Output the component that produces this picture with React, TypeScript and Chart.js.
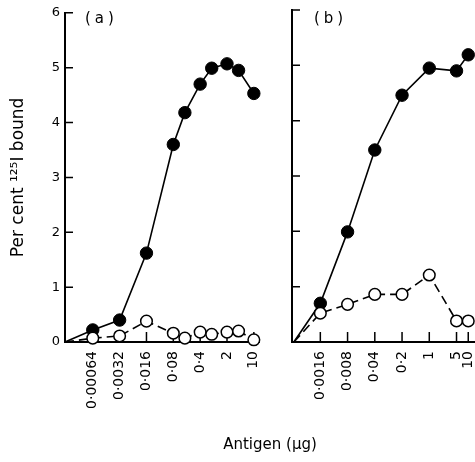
import React, { useEffect, useRef } from "react";
import { Chart, registerables } from "chart.js";

Chart.register(...registerables);

// ---------- data ----------
const yTicks = [0, 1, 2, 3, 4, 5, 6];

// Panel (a)
const originA = 0.000121; // left end of the log axis (no antigen)
const maxA = 14.1;
const ticksA = [0.00064, 0.0032, 0.016, 0.08, 0.4, 2, 10];
const tickLabelsA = ["0·00064", "0·0032", "0·016", "0·08", "0·4", "2", "10"];
const doseA = [0.00064, 0.0032, 0.016, 0.08, 0.16, 0.4, 0.8, 2, 4, 10];
const filledA = [0.22, 0.4, 1.62, 3.6, 4.18, 4.7, 4.99, 5.07, 4.95, 4.53];
const openA = [0.07, 0.11, 0.38, 0.16, 0.07, 0.18, 0.14, 0.18, 0.2, 0.04];

// Panel (b)
const originB = 0.000335;
const maxB = 42.4;
const ticksB = [0.0016, 0.008, 0.04, 0.2, 1, 5, 10];
const tickLabelsB = ["0·0016", "0·008", "0·04", "0·2", "1", "5", "10"];
const doseB = [0.0016, 0.008, 0.04, 0.2, 1, 5, 10];
const filledB = [0.7, 1.99, 3.47, 4.46, 4.95, 4.9, 5.19];
const openB = [0.52, 0.68, 0.86, 0.86, 1.21, 0.38, 0.38];

const FONT = "'DejaVu Sans', 'Liberation Sans', sans-serif";

const tickMarks = {
  id: "tickMarks",
  beforeDatasetsDraw(chart: any) {
    const { ctx, chartArea } = chart;
    const x = chart.scales.x;
    const y = chart.scales.y;
    ctx.save();
    ctx.strokeStyle = "#000";
    ctx.lineWidth = 1.5;
    ctx.beginPath();
    x.ticks.forEach((t: any) => {
      const px = x.getPixelForValue(t.value);
      ctx.moveTo(px, chartArea.bottom);
      ctx.lineTo(px, chartArea.bottom - 10);
    });
    y.ticks.forEach((t: any) => {
      const py = y.getPixelForValue(t.value);
      ctx.moveTo(chartArea.left, py);
      ctx.lineTo(chartArea.left + 8, py);
    });
    ctx.stroke();
    ctx.restore();
  },
};

function makeDatasets(origin: number, dose: number[], filled: number[], open: number[]) {
  const withOrigin = (vals: number[]) => [
    { x: origin, y: 0 },
    ...dose.map((d, i) => ({ x: d, y: vals[i] })),
  ];
  return [
    {
      label: "open",
      data: withOrigin(open),
      borderColor: "#000",
      borderWidth: 1.6,
      borderDash: [9, 5],
      pointRadius: (c: any) => (c.dataIndex === 0 ? 0 : 5.8),
      pointBackgroundColor: "#fff",
      pointBorderColor: "#000",
      pointBorderWidth: 1.5,
      order: 0,
      clip: false,
    },
    {
      label: "filled",
      data: withOrigin(filled),
      borderColor: "#000",
      borderWidth: 1.6,
      pointRadius: (c: any) => (c.dataIndex === 0 ? 0 : 6.2),
      pointBackgroundColor: "#000",
      pointBorderColor: "#000",
      pointBorderWidth: 1,
      order: 1,
      clip: false,
    },
  ];
}

function makeConfig(opts: {
  origin: number;
  max: number;
  ticks: number[];
  labels: string[];
  dose: number[];
  filled: number[];
  open: number[];
  yWidth: number;
  padRight: number;
  showY: boolean;
}) {
  return {
    type: "line" as const,
    data: { datasets: makeDatasets(opts.origin, opts.dose, opts.filled, opts.open) },
    options: {
      animation: false,
      responsive: false,
      devicePixelRatio: 1,
      layout: { padding: { left: 0, right: opts.padRight, top: 10, bottom: 0 } },
      plugins: { legend: { display: false }, tooltip: { enabled: false } },
      scales: {
        x: {
          type: "logarithmic",
          min: opts.origin,
          max: opts.max,
          afterBuildTicks: (s: any) => {
            s.ticks = opts.ticks.map((v) => ({ value: v }));
          },
          afterFit: (s: any) => {
            s.height = 120;
          },
          grid: { display: false, drawTicks: false },
          border: { display: true, color: "#000", width: 2 },
          ticks: {
            autoSkip: false,
            minRotation: 90,
            maxRotation: 90,
            padding: 9,
            color: "#000",
            font: { family: FONT, size: 14 },
            callback: (_v: any, i: number) => opts.labels[i],
          },
        },
        y: {
          type: "linear",
          min: 0,
          max: 6,
          afterBuildTicks: (s: any) => {
            s.ticks = yTicks.map((v) => ({ value: v }));
          },
          afterFit: (s: any) => {
            s.width = opts.yWidth;
          },
          grid: { display: false, drawTicks: false },
          border: { display: true, color: "#000", width: 2 },
          ticks: {
            display: opts.showY,
            padding: 5,
            color: "#000",
            font: { family: FONT, size: 13 },
          },
          title: {
            display: opts.showY,
            text: "Per cent ¹²⁵I bound",
            color: "#000",
            font: { family: FONT, size: 17 },
            padding: { top: 8, bottom: 0 },
          },
        },
      },
    },
    plugins: [tickMarks],
  };
}

function Panel({ config, left, width }: { config: any; left: number; width: number }) {
  const ref = useRef<HTMLCanvasElement | null>(null);
  useEffect(() => {
    if (!ref.current) return;
    const chart = new Chart(ref.current, config);
    return () => chart.destroy();
  }, []);
  return (
    <canvas
      ref={ref}
      width={width}
      height={462}
      style={{ position: "absolute", left, top: 0, width, height: 462 }}
    />
  );
}

export default function App() {
  const cfgA = makeConfig({
    origin: originA,
    max: maxA,
    ticks: ticksA,
    labels: tickLabelsA,
    dose: doseA,
    filled: filledA,
    open: openA,
    yWidth: 65,
    padRight: 12,
    showY: true,
  });
  const cfgB = makeConfig({
    origin: originB,
    max: maxB,
    ticks: ticksB,
    labels: tickLabelsB,
    dose: doseB,
    filled: filledB,
    open: openB,
    yWidth: 12,
    padRight: 5,
    showY: false,
  });
  const textStyle: React.CSSProperties = {
    position: "absolute",
    fontFamily: FONT,
    color: "#000",
    lineHeight: 1,
    whiteSpace: "nowrap",
  };
  return (
    <div
      style={{
        position: "absolute",
        left: 0,
        top: 0,
        width: 475,
        height: 462,
        overflow: "hidden",
        background: "#fff",
      }}
    >
      <Panel config={cfgA} left={0} width={280} />
      <Panel config={cfgB} left={280} width={220} />
      <div style={{ ...textStyle, left: 85, top: 11, fontSize: 15, letterSpacing: 4 }}>(a)</div>
      <div style={{ ...textStyle, left: 314, top: 11, fontSize: 15, letterSpacing: 4 }}>(b)</div>
      <div style={{ ...textStyle, left: 170, width: 200, textAlign: "center", top: 437, fontSize: 15 }}>
        Antigen (µg)
      </div>
    </div>
  );
}
